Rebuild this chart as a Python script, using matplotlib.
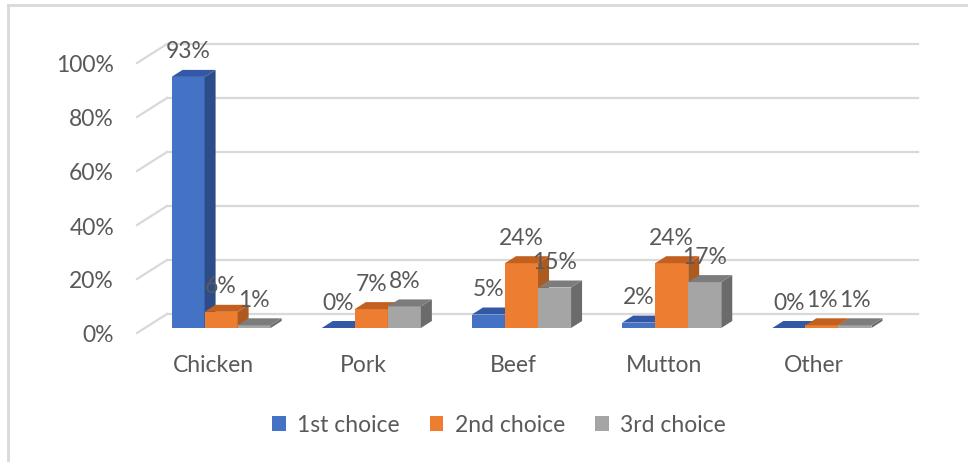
import matplotlib
matplotlib.use("Agg")
import matplotlib.pyplot as plt
import matplotlib.transforms as mtransforms
from matplotlib.patches import Polygon, Patch
from matplotlib.lines import Line2D

categories = ["Chicken", "Pork", "Beef", "Mutton", "Other"]
series_names = ["1st choice", "2nd choice", "3rd choice"]
first_choice = [0.93, 0.00, 0.05, 0.02, 0.00]
second_choice = [0.06, 0.07, 0.24, 0.24, 0.01]
third_choice = [0.01, 0.08, 0.15, 0.17, 0.01]
value_labels = [["93%", "0%", "5%", "2%", "0%"],
                ["6%", "7%", "24%", "24%", "1%"],
                ["1%", "8%", "15%", "17%", "1%"]]
y_ticks = [0.0, 0.2, 0.4, 0.6, 0.8, 1.0]
y_tick_labels = ["0%", "20%", "40%", "60%", "80%", "100%"]

series = [first_choice, second_choice, third_choice]
front_cols = ["#4472C4", "#ED7D31", "#A5A5A5"]
side_cols = ["#2C4D87", "#AE5A1E", "#6B6B6B"]
top_cols = ["#3358A5", "#C2601F", "#7C7C7C"]
text_col = "#595959"
grid_col = "#D9D9D9"
FONT = "Lato"
FS = 16.5

W, H = 968, 462
fig = plt.figure(figsize=(W / 100, H / 100), dpi=100)
fig.patch.set_facecolor("white")

# axes = front plane of the bars
left_px, right_px = 146, 897
floor_px, top_px = 328, 58
ax = fig.add_axes([left_px / W, 1 - floor_px / H, (right_px - left_px) / W, (floor_px - top_px) / H])
ax.set_xlim(-0.5, len(categories) - 0.5)
ax.set_ylim(0, 1)
ax.axis("off")

px_x = (right_px - left_px) / len(categories)  # pixels per x unit
px_y = (floor_px - top_px)                      # pixels per y unit

def off(dx, dy):
    return mtransforms.offset_copy(ax.transData, fig=fig, x=dx, y=dy, units="dots")

# back wall gridlines and left-wall diagonals
back = off(21, 14)
xl, xr = ax.get_xlim()
for t in y_ticks:
    ax.add_line(Line2D([xl, xr], [t, t], transform=back, color=grid_col, lw=1.6, clip_on=False, zorder=0))
    ax.add_line(Line2D([xl - 9 / px_x, xl + 21 / px_x], [t - 5 / px_y, t + 14 / px_y],
                       color=grid_col, lw=1.6, clip_on=False, zorder=0))

# tick labels
tick_tr = off(-32, -8)
for t, lab in zip(y_ticks, y_tick_labels):
    ax.text(xl, t, lab, transform=tick_tr, ha="right", va="center", fontsize=FS,
            color=text_col, family=FONT, clip_on=False)

# bars
bw = 0.22
ddx, ddy = 11 / px_x, 7 / px_y
for j, vals in enumerate(series):
    for i, v in enumerate(vals):
        x0 = i + (j - 1.5) * bw
        x1 = x0 + bw
        z = 2 + j
        ax.bar(x0, v, width=bw, align="edge", color=front_cols[j], zorder=z, linewidth=0)
        side = Polygon([(x1, 0), (x1 + ddx, ddy), (x1 + ddx, v + ddy), (x1, v)],
                       closed=True, facecolor=side_cols[j], edgecolor="none", zorder=z)
        top = Polygon([(x0, v), (x1, v), (x1 + ddx, v + ddy), (x0 + ddx, v + ddy)],
                      closed=True, facecolor=top_cols[j], edgecolor="none", zorder=z)
        ax.add_patch(side)
        ax.add_patch(top)
        ax.annotate(value_labels[j][i], xy=(x0 + bw / 2, v), xytext=(0, 25),
                    textcoords="offset pixels", ha="center", va="center",
                    fontsize=FS, color=text_col, family=FONT, zorder=10,
                    annotation_clip=False)

# category labels
cat_tr = off(-8, -37)
for i, c in enumerate(categories):
    ax.text(i, 0, c, transform=cat_tr, ha="center", va="center", fontsize=FS,
            color=text_col, family=FONT, clip_on=False)

# legend
handles = [Patch(facecolor=front_cols[j], edgecolor="none", label=series_names[j]) for j in range(3)]
leg = fig.legend(handles=handles, loc="center", bbox_to_anchor=(499 / W, 1 - 425 / H), ncol=3,
                 frameon=False, handlelength=0.6, handleheight=0.6, handletextpad=0.5,
                 columnspacing=1.3, prop={"family": FONT, "size": FS})
for txt in leg.get_texts():
    txt.set_color(text_col)

# chart border (left and top)
fig.add_artist(Line2D([8 / W, 8 / W], [0, 1 - 5 / H], color=grid_col, lw=2, transform=fig.transFigure))
fig.add_artist(Line2D([8 / W, 1], [1 - 5 / H, 1 - 5 / H], color=grid_col, lw=2, transform=fig.transFigure))

fig.savefig("out.png", dpi=100)
